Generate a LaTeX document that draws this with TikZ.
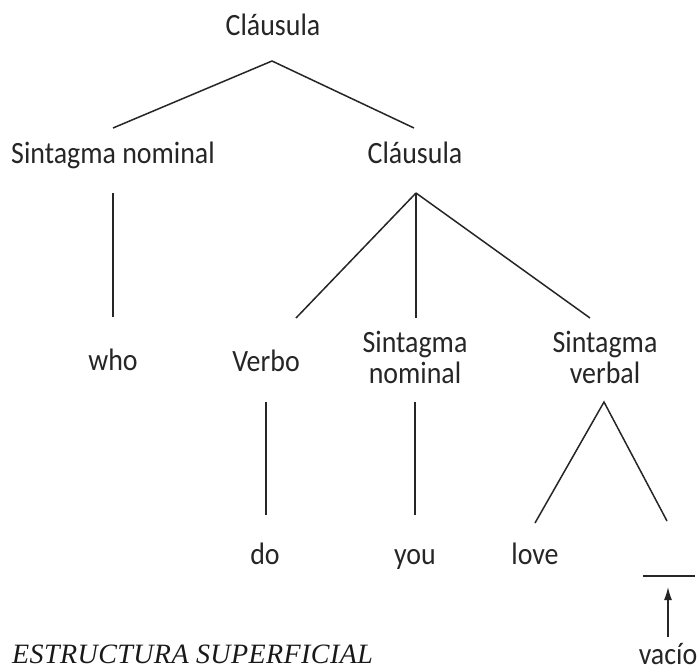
\documentclass[tikz,border=0pt]{standalone}
\usepackage{fontspec}
\setmainfont{Carlito}[FakeStretch=0.9]
\newfontfamily\captionfont{Liberation Serif}[LetterSpace=1.5]
\usetikzlibrary{arrows.meta}
\begin{document}
\begin{tikzpicture}[x=1pt,y=-1pt,
  lbl/.style={font=\fontsize{31}{31}\selectfont, anchor=base, inner sep=0pt, text=black!85},
  branch/.style={line width=1.5pt, draw=black!85},
  pointer/.style={line width=1.4pt, draw=black!85, -{Latex[length=13pt,width=8pt]}}]
\useasboundingbox (0,0) rectangle (699,672);
\fill[white] (0,0) rectangle (699,672);

% labels
\node[lbl] (root) at (273,35) {Cláusula};
\node[lbl] (sn1) at (113,163) {Sintagma nominal};
\node[lbl] (cl2) at (415,163) {Cláusula};
\node[lbl] (who) at (113,370) {who};
\node[lbl] (verbo) at (266,371) {Verbo};
\node[lbl, align=center] (sn2) at (415,383) {Sintagma\\nominal};
\node[lbl, align=center] (sv) at (605,383) {Sintagma\\verbal};
\node[lbl] (do) at (265,564) {do};
\node[lbl] (you) at (415,564) {you};
\node[lbl] (love) at (535,564) {love};
\node[lbl] (vacio) at (668,664) {vacío};
\node[font=\captionfont\itshape\fontsize{28}{29}\selectfont, anchor=base west, inner sep=0pt, text=black!90]
  (caption) at (12,663) {ESTRUCTURA SUPERFICIAL};

% branch end points
\coordinate (rootA) at (272,61);
\coordinate (sn1T) at (113,128);
\coordinate (cl2T) at (414,128);
\coordinate (sn1B) at (113,193);
\coordinate (whoT) at (113,317);
\coordinate (cl2A) at (416,193);
\coordinate (verboT) at (296,318);
\coordinate (sn2T) at (416,318);
\coordinate (svT) at (590,318);
\coordinate (verboB) at (266,402);
\coordinate (doT) at (266,515);
\coordinate (sn2B) at (415,402);
\coordinate (youT) at (415,515);
\coordinate (svA) at (604,402);
\coordinate (loveT) at (535,523);
\coordinate (gapT) at (667,521);
\coordinate (gapL) at (643,576);
\coordinate (gapR) at (695,576);
\coordinate (arrowS) at (668,637);
\coordinate (arrowE) at (668,587);

% tree branches
\draw[branch] (sn1T) -- (rootA) -- (cl2T);
\draw[branch] (sn1B) -- (whoT);
\draw[branch] (cl2A) -- (verboT);
\draw[branch] (cl2A) -- (sn2T);
\draw[branch] (cl2A) -- (svT);
\draw[branch] (verboB) -- (doT);
\draw[branch] (sn2B) -- (youT);
\draw[branch] (loveT) -- (svA) -- (gapT);

% empty slot and its pointer
\draw[branch] (gapL) -- (gapR);
\draw[pointer] (arrowS) -- (arrowE);
\end{tikzpicture}
\end{document}
